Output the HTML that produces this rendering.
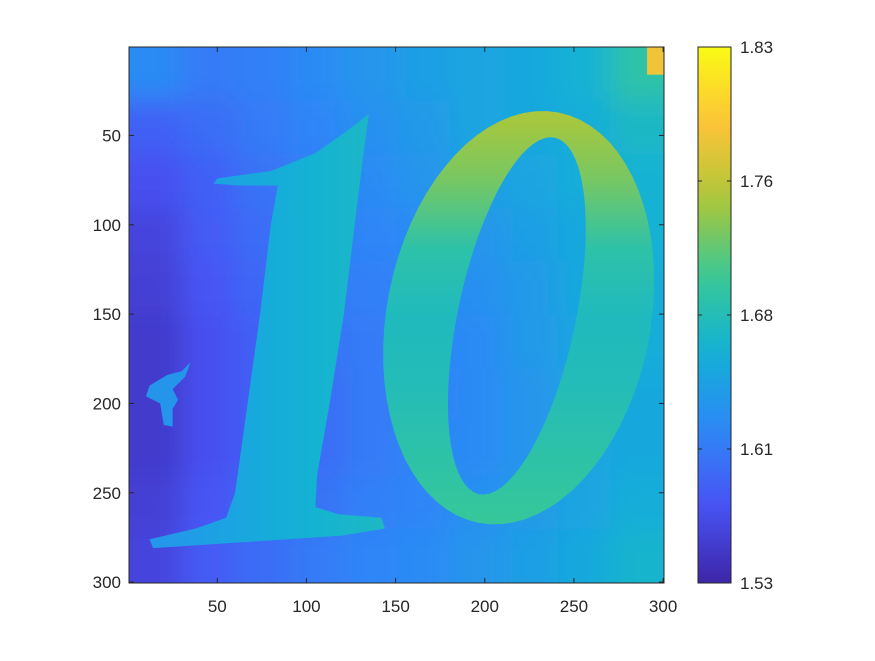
<!DOCTYPE html>
<html><head><meta charset="utf-8"><style>
body{margin:0;background:#fff;}
svg text{font-family:"Liberation Sans",sans-serif;font-size:17px;fill:#262626;}
</style></head><body>
<svg id="chart" width="875" height="656" xmlns="http://www.w3.org/2000/svg">
<defs>
<clipPath id="axclip"><rect x="129" y="47" width="535" height="536"/></clipPath>
<filter id="blur" x="-20%" y="-20%" width="140%" height="140%"><feGaussianBlur stdDeviation="14"/></filter>
<linearGradient id="cbgrad" x1="0" y1="1" x2="0" y2="0"></linearGradient>
<linearGradient id="onegrad" x1="0" y1="0" x2="1" y2="0"></linearGradient>
<linearGradient id="zerograd" x1="0" y1="0" x2="0" y2="1"></linearGradient>
</defs>
<g id="plot" clip-path="url(#axclip)"></g>
<g id="axes"></g>
<g id="cbar"></g>
</svg>
<script>
// ---- data ----
const cMin = 1.53, cMax = 1.83;
const cbTickValues = [1.53, 1.605, 1.68, 1.755, 1.83];
const cbTickLabels = ["1.53", "1.61", "1.68", "1.76", "1.83"];
const xTicks = [50, 100, 150, 200, 250, 300];
const yTicks = [50, 100, 150, 200, 250, 300];
// background grid: 10x10 cells of 30 data units each (rows top->bottom)
const bgRows = [
 [1.62,1.605,1.61,1.62,1.63,1.64,1.645,1.65,1.66,1.69],
 [1.585,1.595,1.605,1.615,1.625,1.635,1.645,1.65,1.655,1.67],
 [1.57,1.585,1.60,1.61,1.62,1.63,1.64,1.645,1.655,1.66],
 [1.56,1.58,1.595,1.605,1.615,1.62,1.63,1.64,1.65,1.66],
 [1.555,1.575,1.59,1.605,1.61,1.615,1.625,1.635,1.65,1.655],
 [1.55,1.57,1.585,1.60,1.605,1.615,1.62,1.635,1.645,1.655],
 [1.55,1.57,1.585,1.595,1.605,1.61,1.62,1.63,1.645,1.65],
 [1.55,1.57,1.585,1.595,1.605,1.615,1.62,1.63,1.645,1.65],
 [1.555,1.575,1.59,1.60,1.61,1.615,1.625,1.635,1.645,1.655],
 [1.56,1.58,1.595,1.605,1.615,1.62,1.63,1.64,1.65,1.665]
];
// "1" digit outline (data coords) and its left->right values
const oneOutline = [[135,38],[132,60],[127,100],[121,150],[113,200],[106,240],[105,258],[118,262],[142,264],[144,270],[120,274],[60,278],[14,281],[12,276],[38,270],[55,264],[60,250],[67,200],[74,150],[80,100],[84,78],[62,78],[48,77],[50,74],[80,70],[105,60],[122,48]];
const oneValues = [1.63,1.645,1.66,1.672];
// "0" digit: outer/inner ellipses (data coords) and top->bottom values
const zeroOuter = {cx:219, cy:152, rx:74, ry:117, rot:11};
const zeroInner = {cx:218, cy:151, rx:33, ry:102, rot:12};
const zeroValues = [1.745,1.725,1.69,1.675,1.68,1.69,1.70];
// small features
const blobOutline = [[35,177],[30,182],[22,184],[12,190],[10,196],[18,200],[20,212],[25,213],[25,203],[28,198],[25,192],[32,185]];
const blobValue = 1.63;
const cornerCell = {x0:291, y0:0, x1:300.5, y1:16, v:1.78};

// ---- scales ----
const X0=129, X1=664, Y0=47, Y1=583;
const xs = d => X0 + (d-0.5)/300*(X1-X0);
const ys = d => Y0 + (d-0.5)/300*(Y1-Y0);
const stops=[[0,[62,38,168]],[0.143,[72,82,244]],[0.286,[46,135,247]],[0.429,[18,177,214]],[0.571,[55,200,151]],[0.714,[171,199,57]],[0.857,[254,195,56]],[1,[249,251,21]]];
function cmap(v){let t=Math.max(0,Math.min(1,(v-cMin)/(cMax-cMin)));
 for(let i=1;i<stops.length;i++){if(t<=stops[i][0]){const a=stops[i-1],b=stops[i];const f=(t-a[0])/(b[0]-a[0]);
 const c=a[1].map((x,k)=>Math.round(x+(b[1][k]-x)*f));return `rgb(${c[0]},${c[1]},${c[2]})`;}}
 return 'rgb(249,251,21)';}
const NS="http://www.w3.org/2000/svg";
function mk(tag,attrs,parent){const e=document.createElementNS(NS,tag);for(const k in attrs)e.setAttribute(k,attrs[k]);parent.appendChild(e);return e;}
function fillGrad(id,vals){const g=document.getElementById(id);vals.forEach((v,i)=>mk('stop',{offset:(i/(vals.length-1)),'stop-color':cmap(v)},g));}

const plot=document.getElementById('plot');
const bg=mk('g',{filter:'url(#blur)'},plot);


bgRows.forEach((row,r)=>row.forEach((v,c)=>{
 let d0=c*30, d1=(c+1)*30, e0=r*30, e1=(r+1)*30;
 if(c===0)d0-=40; if(c===9)d1+=40; if(r===0)e0-=40; if(r===9)e1+=40;
 const cell=mk('rect',{x:xs(d0+0.5),y:ys(e0+0.5),width:xs(d1+0.5)-xs(d0+0.5)+1,height:ys(e1+0.5)-ys(e0+0.5)+1,fill:cmap(v)},bg);
 
 
}));
const corner=mk('rect',{x:xs(cornerCell.x0),y:ys(cornerCell.y0),width:xs(cornerCell.x1)-xs(cornerCell.x0),height:ys(cornerCell.y1)-ys(cornerCell.y0),fill:cmap(cornerCell.v)},plot);


const blob=mk('polygon',{points:blobOutline.map(p=>xs(p[0])+','+ys(p[1])).join(' '),fill:cmap(blobValue)},plot);


fillGrad('onegrad',oneValues);
const one=mk('polygon',{points:oneOutline.map(p=>xs(p[0])+','+ys(p[1])).join(' '),fill:'url(#onegrad)'},plot);


fillGrad('zerograd',zeroValues);
function ell(o){const cx=xs(o.cx),cy=ys(o.cy),rx=o.rx*(X1-X0)/300,ry=o.ry*(Y1-Y0)/300,a=o.rot*Math.PI/180;
 const pts=[];for(let i=0;i<72;i++){const t=i/72*2*Math.PI;const x=rx*Math.cos(t),y=ry*Math.sin(t);
 pts.push([cx+x*Math.cos(a)-y*Math.sin(a),cy+x*Math.sin(a)+y*Math.cos(a)]);}
 return 'M'+pts.map(p=>p[0].toFixed(1)+','+p[1].toFixed(1)).join('L')+'Z';}
const zero=mk('path',{d:ell(zeroOuter)+ell(zeroInner),'fill-rule':'evenodd',fill:'url(#zerograd)'},plot);



const ax=document.getElementById('axes');
const box=mk('rect',{x:X0,y:Y0,width:X1-X0,height:Y1-Y0,fill:'none',stroke:'#262626','stroke-width':1},ax);


xTicks.forEach(t=>{const x=xs(t);
 mk('line',{x1:x,y1:Y1,x2:x,y2:Y1-5,stroke:'#262626'},ax);mk('line',{x1:x,y1:Y0,x2:x,y2:Y0+5,stroke:'#262626'},ax);
 const l=mk('text',{x:x,y:Y1+29,'text-anchor':'middle'},ax);l.textContent=t;
 
 });
yTicks.forEach(t=>{const y=ys(t);
 mk('line',{x1:X0,y1:y,x2:X0+5,y2:y,stroke:'#262626'},ax);mk('line',{x1:X1,y1:y,x2:X1-5,y2:y,stroke:'#262626'},ax);
 const l=mk('text',{x:X0-8,y:y+6,'text-anchor':'end'},ax);l.textContent=t;
 
 });
const cb=document.getElementById('cbar');
const CX0=698,CX1=731;
const cs=v=>Y1-(v-cMin)/(cMax-cMin)*(Y1-Y0);
for(let i=0;i<=20;i++)mk('stop',{offset:i/20,'stop-color':cmap(cMin+(cMax-cMin)*i/20)},document.getElementById('cbgrad'));
const cbr=mk('rect',{x:CX0,y:Y0,width:CX1-CX0,height:Y1-Y0,fill:'url(#cbgrad)',stroke:'#262626','stroke-width':1},cb);


cbTickValues.forEach((v,i)=>{const y=cs(v);
 mk('line',{x1:CX0,y1:y,x2:CX0+4,y2:y,stroke:'#262626'},cb);mk('line',{x1:CX1,y1:y,x2:CX1-4,y2:y,stroke:'#262626'},cb);
 const l=mk('text',{x:CX1+9,y:y+6},cb);l.textContent=cbTickLabels[i];
 
 });
</script>
</body></html>
